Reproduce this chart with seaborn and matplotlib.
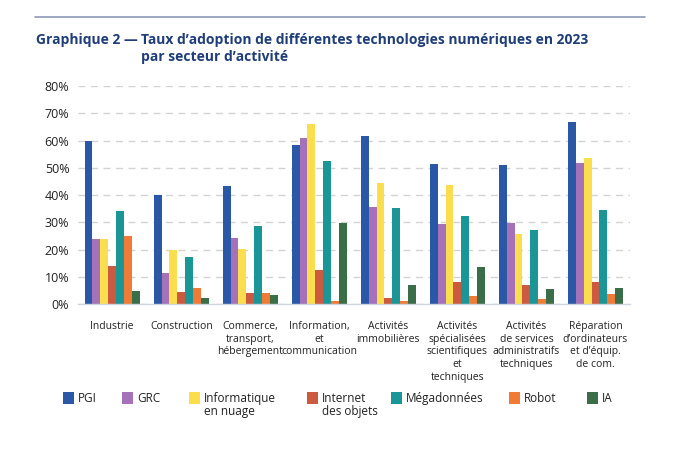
import numpy as np
import pandas as pd
import matplotlib
matplotlib.use("Agg")
import matplotlib.pyplot as plt
import seaborn as sns
from matplotlib.lines import Line2D
from matplotlib.patches import Rectangle

sectors = ["Industrie", "Construction", "Commerce,\ntransport,\nhébergement",
           "Information,\net\ncommunication", "Activités\nimmobilières",
           "Activités\nspécialisées\nscientifiques\net\ntechniques",
           "Activités\nde services\nadministratifs\ntechniques",
           "Réparation\nd’ordinateurs\net d’équip.\nde com."]
techs = ["PGI", "GRC", "Informatique\nen nuage", "Internet\ndes objets",
         "Mégadonnées", "Robot", "IA"]

pgi   = [60, 40, 43.4, 58.3, 61.6, 51.4, 50.9, 66.9]
grc   = [24, 11.4, 24.2, 61, 35.8, 29.4, 29.6, 51.7]
cloud = [24, 19.7, 20.2, 65.9, 44.4, 43.7, 25.8, 53.6]
iot   = [14, 4.3, 4, 12.5, 2.4, 8.1, 7, 8.1]
big   = [34, 17.4, 28.8, 52.6, 35.2, 32.4, 27.2, 34.6]
robot = [25, 5.9, 4, 1.2, 1, 2.9, 1.8, 3.7]
ia    = [5, 2.2, 3.4, 29.9, 7, 13.8, 5.6, 5.9]

series = [pgi, grc, cloud, iot, big, robot, ia]
colors = ["#2b57a7", "#a571b9", "#fbde4e", "#cc5a40", "#1b9696", "#f07b36", "#3a6e49"]

rows = []
for t, vals in zip(techs, series):
    for s, v in zip(sectors, vals):
        rows.append({"Secteur": s, "Technologie": t, "Taux": v})
df = pd.DataFrame(rows)

sns.set_theme(style="white")
plt.rcParams['font.family'] = ['Open Sans', 'DejaVu Sans']

fig = plt.figure(figsize=(7, 4.5), dpi=100)
ax = fig.add_axes([0.111, 0.324, 0.789, 0.485])

sns.barplot(data=df, x="Secteur", y="Taux", hue="Technologie",
            order=sectors, hue_order=techs, palette=colors,
            width=0.8, saturation=1, linewidth=0, edgecolor="none",
            ax=ax, legend=False)

ax.set_ylim(0, 80)
ax.set_yticks(range(0, 81, 10))
ax.set_yticklabels([f"{v}%" for v in range(0, 81, 10)], fontsize=9, color="#222222")
ax.yaxis.grid(True, linestyle=(0, (5, 4)), color="#d3d3d3", linewidth=1)
ax.set_axisbelow(True)
for sp in ["top", "right", "left"]:
    ax.spines[sp].set_visible(False)
ax.spines["bottom"].set_color("#cfd6e0")
ax.spines["bottom"].set_linewidth(1)
ax.tick_params(axis="both", length=0)
ax.tick_params(axis="y", pad=6)
ax.tick_params(axis="x", pad=12)
ax.set_xlabel("")
ax.set_ylabel("")
ax.set_xticks(range(len(sectors)))
ax.set_xticklabels(sectors, fontsize=7.5, color="#222222", linespacing=1.22)

# Top rule
fig.add_artist(Line2D([0.05, 0.921], [0.962, 0.962], color="#8c9ab5", linewidth=1.2))

title_color = "#1f3d78"
fig.text(0.052, 0.902, "Graphique 2 —", fontsize=10, fontweight="bold", color=title_color, va="baseline")
fig.text(0.202, 0.902, "Taux d’adoption de différentes technologies numériques en 2023",
         fontsize=10, fontweight="bold", color=title_color, va="baseline")
fig.text(0.202, 0.865, "par secteur d’activité", fontsize=10, fontweight="bold",
         color=title_color, va="baseline")

# Legend (manual layout to mimic reference)
sq_x = [63, 122, 189, 307, 391, 509, 587]
W, H = 700.0, 450.0
for x, lab, c in zip(sq_x, techs, colors):
    fig.add_artist(Rectangle((x / W, 1 - 404 / H), 11 / W, 12 / H,
                             transform=fig.transFigure, facecolor=c, edgecolor="none"))
    for i, line in enumerate(lab.split("\n")):
        fig.text((x + 15) / W, 1 - (402 + 13.5 * i) / H, line, fontsize=8.5,
                 color="#222222", va="baseline", ha="left")

fig.savefig("out.png", dpi=100, facecolor="white")
